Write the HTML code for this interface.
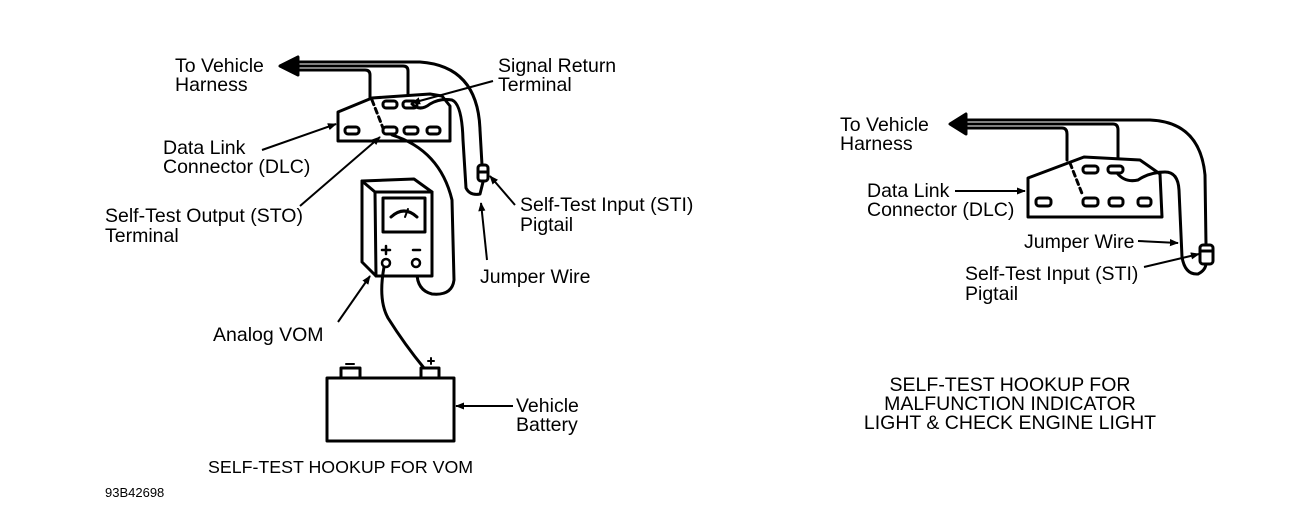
<!DOCTYPE html>
<html><head><style>
html,body{margin:0;padding:0;background:#fff;}
svg{display:block;}
text{font-family:"Liberation Sans",Arial,sans-serif;font-size:19.5px;fill:#000;}
</style></head><body>
<svg width="1308" height="527" viewBox="0 0 1308 527" xmlns="http://www.w3.org/2000/svg">
<defs>
<marker id="a" viewBox="0 0 10 10" refX="9" refY="5" markerWidth="9" markerHeight="9" markerUnits="userSpaceOnUse" orient="auto"><path d="M0,1 L10,5 L0,9 z" fill="#000"/></marker>
</defs>
<g fill="none" stroke="#000" stroke-width="3" stroke-linejoin="round" stroke-linecap="round">
<!-- LEFT harness -->
<path d="M290,62 L420,62 Q478,66 480,130 L482,165" />
<path d="M292,66 L403,66 Q408,66 408,71 L408,100" />
<path d="M292,70 L365,70 Q370,70 370,75 L370,98" />
<path d="M280,66 L298,57 L298,75 Z" fill="#000"/>
<!-- DLC left -->
<path d="M338,112 L372,98 L430,94 L442,96 L450,106 L450,141 L338,141 Z" fill="#fff"/>
<path d="M372,100 L383,128" stroke-dasharray="5,4"/>
<rect x="383" y="101" width="14" height="7" rx="3"/>
<rect x="403" y="101" width="14" height="7" rx="3"/>
<rect x="345" y="127" width="14" height="7" rx="3"/>
<rect x="383" y="127" width="14" height="7" rx="3"/>
<rect x="404" y="127" width="14" height="7" rx="3"/>
<rect x="427" y="127" width="13" height="7" rx="3"/>
<!-- jumper left -->
<path d="M412,104 Q420,112 430,104 Q440,98 452,100 Q462,104 463,140 L466,188 Q470,196 480,194 L483,182"/>
<!-- STI left -->
<rect x="478" y="165" width="10" height="16" rx="3" fill="#fff"/>
<path d="M478,172 L488,172"/>
<!-- STO wire -->
<path d="M392,135 Q440,150 452,200 L454,280 Q452,296 432,294 Q416,290 417,270"/>
<!-- meter -->
<path d="M362,181 L375,192 L432,192 L432,276 L376,276 L362,262 Z" fill="#fff"/>
<path d="M362,181 L414,179 L432,192"/>
<path d="M375,192 L376,276"/>
<rect x="383" y="198" width="42" height="34"/>
<path d="M391,217 Q404,205 417,217"/>
<path d="M408,209 L405,217" stroke-width="2"/>
<circle cx="386" cy="263" r="4" stroke-width="2.5"/>
<circle cx="416" cy="263" r="4" stroke-width="2.5"/>
<path d="M386,246 L386,254 M382,250 L390,250 M413,250 L420,250" stroke-width="2.5"/>
<!-- meter to battery -->
<path d="M384,267 Q378,300 388,318 Q405,345 424,368"/>
<!-- battery -->
<rect x="327" y="378" width="127" height="63" fill="#fff"/>
<rect x="341" y="368" width="19" height="10" fill="#fff"/>
<rect x="421" y="368" width="18" height="10" fill="#fff"/>
<path d="M346,364 L354,364 M428,361 L434,361 M431,358 L431,364" stroke-width="2"/>

<!-- RIGHT harness -->
<path d="M960,120 L1150,120 Q1200,122 1205,175 L1206,245"/>
<path d="M962,124 L1113,124 Q1118,124 1118,130 L1118,167"/>
<path d="M962,128 L1062,128 Q1067,128 1067,134 L1067,160"/>
<path d="M950,124 L966,114 L966,134 Z" fill="#000"/>
<!-- DLC right -->
<path d="M1028,178 L1084,157 L1140,160 L1160,174 L1162,217 L1028,217 Z" fill="#fff"/>
<path d="M1070,163 L1083,196" stroke-dasharray="5,4"/>
<rect x="1083" y="166" width="15" height="7" rx="3"/>
<rect x="1108" y="166" width="15" height="7" rx="3"/>
<rect x="1036" y="198" width="15" height="8" rx="3"/>
<rect x="1083" y="198" width="15" height="8" rx="3"/>
<rect x="1109" y="198" width="14" height="8" rx="3"/>
<rect x="1138" y="198" width="13" height="8" rx="3"/>
<!-- jumper right -->
<path d="M1117,173 Q1125,183 1138,180 Q1150,172 1165,172 Q1178,172 1179,190 L1182,257 Q1185,275 1198,274 Q1206,270 1206,263"/>
<rect x="1200" y="245" width="13" height="19" rx="3" fill="#fff"/>
<path d="M1200,251 L1213,251"/>
</g>
<!-- leader arrows -->
<g stroke="#000" stroke-width="2" fill="none" marker-end="url(#a)">
<line x1="493" y1="81" x2="412" y2="103"/>
<line x1="262" y1="150" x2="336" y2="124"/>
<line x1="300" y1="206" x2="380" y2="137"/>
<line x1="515" y1="205" x2="490" y2="176"/>
<line x1="487" y1="260" x2="481" y2="203"/>
<line x1="338" y1="322" x2="370" y2="276"/>
<line x1="513" y1="406" x2="456" y2="406"/>
<line x1="955" y1="191" x2="1025" y2="191"/>
<line x1="1138" y1="241" x2="1178" y2="243"/>
<line x1="1144" y1="267" x2="1199" y2="254"/>
</g>
<g>
<text x="175" y="72">To Vehicle</text>
<text x="175" y="91">Harness</text>
<text x="498" y="72">Signal Return</text>
<text x="498" y="91">Terminal</text>
<text x="163" y="154">Data Link</text>
<text x="163" y="173">Connector (DLC)</text>
<text x="105" y="222">Self-Test Output (STO)</text>
<text x="105" y="242">Terminal</text>
<text x="520" y="211">Self-Test Input (STI)</text>
<text x="520" y="231">Pigtail</text>
<text x="480" y="283">Jumper Wire</text>
<text x="213" y="341">Analog VOM</text>
<text x="516" y="412">Vehicle</text>
<text x="516" y="431">Battery</text>
<text x="208" y="473" style="font-size:17.8px">SELF-TEST HOOKUP FOR VOM</text>
<text x="105" y="497" style="font-size:13px">93B42698</text>
<text x="840" y="131">To Vehicle</text>
<text x="840" y="150">Harness</text>
<text x="867" y="197">Data Link</text>
<text x="867" y="216">Connector (DLC)</text>
<text x="1024" y="248">Jumper Wire</text>
<text x="965" y="280">Self-Test Input (STI)</text>
<text x="965" y="300">Pigtail</text>
<text x="1010" y="391" text-anchor="middle">SELF-TEST HOOKUP FOR</text>
<text x="1010" y="410" text-anchor="middle">MALFUNCTION INDICATOR</text>
<text x="1010" y="429" text-anchor="middle">LIGHT &amp; CHECK ENGINE LIGHT</text>
</g>
</svg>
</body></html>
